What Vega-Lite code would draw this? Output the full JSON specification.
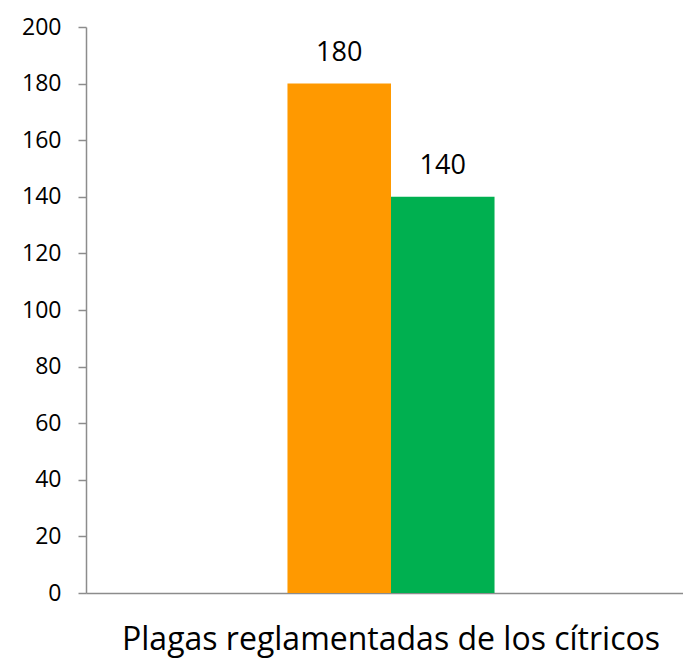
{
  "$schema": "https://vega.github.io/schema/vega-lite/v6.json",
  "autosize": "none",
  "padding": {"left": 86, "top": 27, "right": 0, "bottom": 68},
  "width": 610,
  "height": 566,
  "background": "white",
  "config": {"view": {"stroke": null}, "font": "Open Sans"},
  "data": {"values": [
    {"categoria": "Plagas reglamentadas de los cítricos", "serie": "A", "valor": 180},
    {"categoria": "Plagas reglamentadas de los cítricos", "serie": "B", "valor": 140}
  ]},
  "encoding": {
    "x": {"field": "categoria", "type": "nominal", "title": null,
      "scale": {"paddingInner": 0, "paddingOuter": 0.973},
      "axis": {"labelAngle": 0, "labelFontSize": 32, "labelColor": "#000000", "labelPadding": 31, "ticks": false, "domainColor": "#8c8c8c", "domainWidth": 1.5, "labelLimit": 700}},
    "xOffset": {"field": "serie", "type": "nominal", "scale": {"paddingInner": 0, "paddingOuter": 0}},
    "y": {"field": "valor", "type": "quantitative", "title": null,
      "scale": {"domain": [0, 200], "nice": false},
      "axis": {"values": [0,20,40,60,80,100,120,140,160,180,200], "grid": false, "tickSize": 8, "tickColor": "#8c8c8c", "tickWidth": 1.5, "domainColor": "#8c8c8c", "domainWidth": 1.5, "labelFontSize": 23, "labelColor": "#000000", "labelPadding": 17}}
  },
  "layer": [
    {"mark": {"type": "bar"},
     "encoding": {"color": {"field": "serie", "type": "nominal", "legend": null,
       "scale": {"domain": ["A", "B"], "range": ["#FF9900", "#00B050"]}}}},
    {"mark": {"type": "text", "dy": -31, "fontSize": 27, "color": "#000000"},
     "encoding": {"text": {"field": "valor", "type": "quantitative"}}}
  ]
}
